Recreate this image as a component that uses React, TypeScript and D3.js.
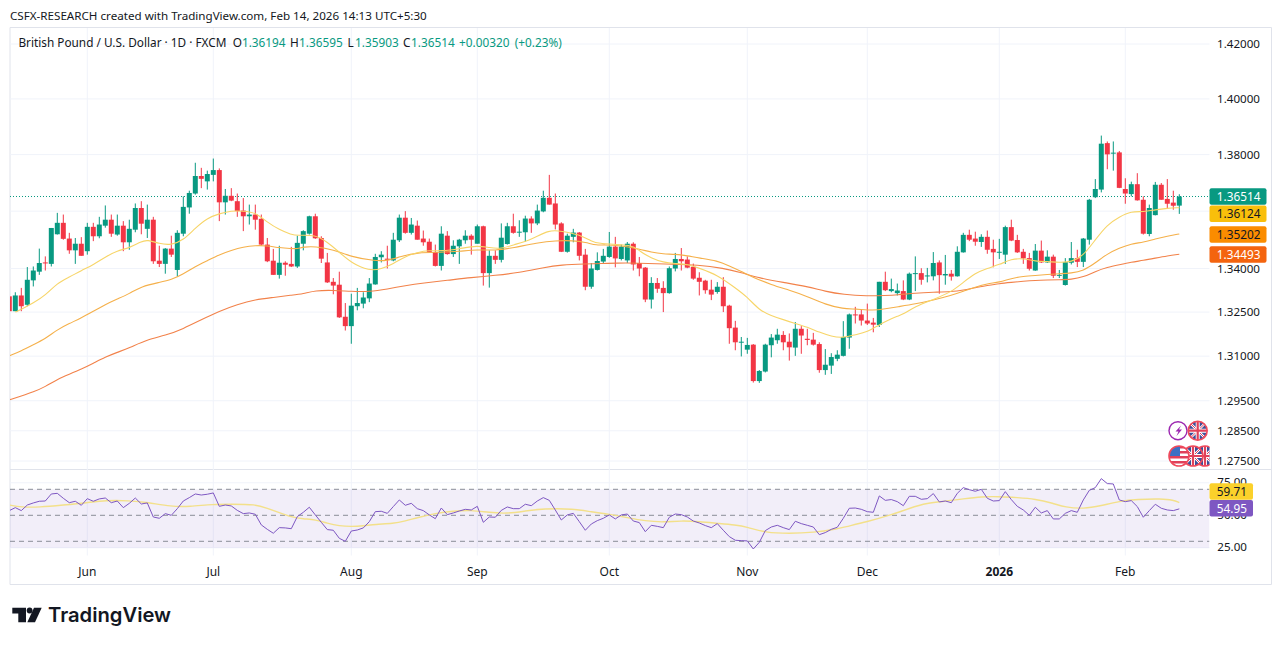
import React from "react";
import * as d3 from "d3";

type Candle = [number, number, number, number];
type Sample = [number, number];

// candles: [open, high, low, close]; first bar number is -1
const candlesMay: Candle[] = [
[1.3304,1.3304,1.3253,1.3253],[1.3253,1.3318,1.3253,1.3307],[1.3307,1.3333,1.3253,1.3270],[1.3275,1.3405,1.3270,1.3361],
[1.3359,1.3407,1.3338,1.3393],[1.3389,1.3469,1.3378,1.3419],[1.3421,1.3442,1.3393,1.3419],[1.3416,1.3541,1.3407,1.3541],
[1.3519,1.3594,1.3518,1.3559],[1.3559,1.3588,1.3500,1.3503],[1.3504,1.3524,1.3451,1.3463],[1.3463,1.3506,1.3416,1.3486],
[1.3486,1.3509,1.3444,1.3444]];
const candlesJun: Candle[] = [
[1.3460,1.3559,1.3448,1.3545],[1.3545,1.3559,1.3495,1.3512],[1.3512,1.3580,1.3505,1.3553],[1.3549,1.3620,1.3542,1.3570],
[1.3570,1.3588,1.3510,1.3521],[1.3518,1.3588,1.3514,1.3549],[1.3549,1.3565,1.3460,1.3491],[1.3491,1.3570,1.3465,1.3538],
[1.3535,1.3627,1.3526,1.3611],[1.3611,1.3635,1.3519,1.3556],[1.3538,1.3623,1.3506,1.3570],[1.3570,1.3580,1.3416,1.3425],
[1.3427,1.3479,1.3405,1.3416],[1.3416,1.3471,1.3382,1.3469],[1.3469,1.3514,1.3440,1.3448],[1.3395,1.3533,1.3373,1.3524],
[1.3521,1.3652,1.3512,1.3615],[1.3613,1.3672,1.3591,1.3664],[1.3662,1.3771,1.3658,1.3724],[1.3724,1.3753,1.3681,1.3714],
[1.3705,1.3743,1.3676,1.3731]];
const candlesJul: Candle[] = [
[1.3728,1.3786,1.3705,1.3745],[1.3745,1.3751,1.3565,1.3631],[1.3631,1.3678,1.3588,1.3654],[1.3654,1.3681,1.3635,1.3637],
[1.3635,1.3662,1.3580,1.3600],[1.3602,1.3646,1.3530,1.3582],[1.3582,1.3623,1.3553,1.3588],[1.3588,1.3623,1.3535,1.3570],
[1.3573,1.3588,1.3479,1.3483],[1.3483,1.3506,1.3422,1.3425],[1.3427,1.3468,1.3378,1.3378],[1.3378,1.3479,1.3365,1.3420],
[1.3420,1.3425,1.3375,1.3413],[1.3416,1.3475,1.3405,1.3407],[1.3407,1.3514,1.3402,1.3489],[1.3486,1.3533,1.3463,1.3530],
[1.3521,1.3584,1.3518,1.3582],[1.3582,1.3591,1.3503,1.3505],[1.3506,1.3512,1.3419,1.3434],[1.3421,1.3454,1.3350,1.3352],
[1.3354,1.3367,1.3311,1.3341],[1.3344,1.3389,1.3230,1.3232],[1.3234,1.3281,1.3187,1.3202]];
const candlesAug: Candle[] = [
[1.3202,1.3313,1.3142,1.3272],[1.3270,1.3333,1.3256,1.3281],[1.3279,1.3318,1.3263,1.3300],[1.3297,1.3367,1.3284,1.3348],
[1.3345,1.3451,1.3344,1.3440],[1.3439,1.3460,1.3421,1.3448],[1.3434,1.3479,1.3400,1.3430],[1.3428,1.3524,1.3425,1.3500],
[1.3498,1.3588,1.3492,1.3577],[1.3577,1.3600,1.3521,1.3524],[1.3524,1.3576,1.3518,1.3553],[1.3549,1.3567,1.3500,1.3500],
[1.3504,1.3532,1.3479,1.3491],[1.3493,1.3504,1.3454,1.3456],[1.3457,1.3483,1.3407,1.3409],[1.3409,1.3547,1.3393,1.3521],
[1.3514,1.3530,1.3448,1.3450],[1.3450,1.3498,1.3440,1.3479],[1.3477,1.3503,1.3416,1.3500],[1.3498,1.3533,1.3486,1.3514],
[1.3514,1.3519,1.3448,1.3500]];
const candlesSep: Candle[] = [
[1.3486,1.3553,1.3486,1.3547],[1.3547,1.3549,1.3341,1.3384],[1.3384,1.3463,1.3334,1.3444],[1.3444,1.3463,1.3416,1.3430],
[1.3430,1.3557,1.3421,1.3507],[1.3485,1.3559,1.3483,1.3547],[1.3547,1.3591,1.3521,1.3524],[1.3526,1.3568,1.3510,1.3528],
[1.3526,1.3584,1.3493,1.3574],[1.3574,1.3582,1.3524,1.3557],[1.3557,1.3623,1.3551,1.3602],[1.3599,1.3672,1.3596,1.3647],
[1.3647,1.3728,1.3623,1.3623],[1.3627,1.3662,1.3536,1.3553],[1.3557,1.3561,1.3457,1.3458],[1.3458,1.3521,1.3455,1.3514],
[1.3510,1.3538,1.3491,1.3525],[1.3525,1.3527,1.3428,1.3444],[1.3448,1.3468,1.3325,1.3337],[1.3337,1.3419,1.3330,1.3400],
[1.3395,1.3456,1.3393,1.3426],[1.3424,1.3468,1.3417,1.3444]];
const candlesOct: Candle[] = [
[1.3440,1.3527,1.3437,1.3476],[1.3476,1.3510,1.3404,1.3435],[1.3433,1.3483,1.3428,1.3476],[1.3428,1.3492,1.3419,1.3486],
[1.3486,1.3491,1.3393,1.3414],[1.3419,1.3440,1.3373,1.3400],[1.3403,1.3405,1.3284,1.3293],[1.3293,1.3370,1.3262,1.3350],
[1.3350,1.3367,1.3316,1.3330],[1.3333,1.3356,1.3250,1.3315],[1.3315,1.3407,1.3313,1.3401],[1.3400,1.3454,1.3390,1.3433],
[1.3433,1.3471,1.3393,1.3425],[1.3431,1.3442,1.3401,1.3403],[1.3406,1.3417,1.3361,1.3365],[1.3368,1.3387,1.3307,1.3354],
[1.3358,1.3361,1.3313,1.3325],[1.3327,1.3361,1.3291,1.3310],[1.3319,1.3353,1.3313,1.3337],[1.3337,1.3370,1.3250,1.3270],
[1.3272,1.3275,1.3142,1.3195],[1.3197,1.3220,1.3120,1.3147],[1.3147,1.3165,1.3099,1.3149]];
const candlesNov: Candle[] = [
[1.3122,1.3162,1.3108,1.3138],[1.3139,1.3141,1.3011,1.3016],[1.3016,1.3053,1.3010,1.3050],[1.3048,1.3142,1.3045,1.3139],
[1.3137,1.3175,1.3096,1.3163],[1.3154,1.3193,1.3142,1.3173],[1.3172,1.3185,1.3120,1.3147],[1.3149,1.3177,1.3085,1.3130],
[1.3129,1.3216,1.3101,1.3193],[1.3193,1.3202,1.3108,1.3170],[1.3159,1.3193,1.3137,1.3155],[1.3156,1.3179,1.3136,1.3139],
[1.3141,1.3147,1.3044,1.3053],[1.3053,1.3124,1.3037,1.3071],[1.3068,1.3110,1.3040,1.3097],[1.3091,1.3120,1.3083,1.3105],
[1.3101,1.3219,1.3099,1.3165],[1.3163,1.3245,1.3125,1.3242],[1.3242,1.3268,1.3211,1.3239],[1.3242,1.3258,1.3204,1.3221]];
const candlesDec: Candle[] = [
[1.3221,1.3279,1.3206,1.3211],[1.3214,1.3230,1.3181,1.3207],[1.3206,1.3354,1.3199,1.3354],[1.3354,1.3389,1.3322,1.3325],
[1.3322,1.3365,1.3318,1.3329],[1.3315,1.3348,1.3307,1.3324],[1.3322,1.3359,1.3291,1.3293],[1.3293,1.3386,1.3291,1.3382],
[1.3382,1.3442,1.3322,1.3384],[1.3384,1.3401,1.3344,1.3361],[1.3374,1.3402,1.3352,1.3376],[1.3373,1.3457,1.3359,1.3419],
[1.3421,1.3428,1.3313,1.3377],[1.3376,1.3447,1.3344,1.3381],[1.3382,1.3395,1.3358,1.3372],[1.3373,1.3477,1.3372,1.3458],
[1.3456,1.3524,1.3455,1.3517],[1.3517,1.3535,1.3495,1.3500],[1.3504,1.3528,1.3479,1.3493],[1.3492,1.3519,1.3475,1.3510],
[1.3510,1.3532,1.3451,1.3465],[1.3468,1.3500,1.3404,1.3456]];
const candlesJan: Candle[] = [
[1.3456,1.3503,1.3433,1.3458],[1.3448,1.3549,1.3416,1.3544],[1.3544,1.3570,1.3495,1.3497],[1.3499,1.3517,1.3454,1.3456],
[1.3458,1.3468,1.3416,1.3435],[1.3436,1.3454,1.3393,1.3399],[1.3393,1.3485,1.3392,1.3462],[1.3462,1.3497,1.3419,1.3421],
[1.3421,1.3463,1.3419,1.3441],[1.3441,1.3448,1.3367,1.3375],[1.3376,1.3395,1.3367,1.3378],[1.3343,1.3436,1.3341,1.3422],
[1.3420,1.3492,1.3414,1.3436],[1.3436,1.3465,1.3405,1.3423],[1.3423,1.3506,1.3405,1.3504],[1.3500,1.3643,1.3483,1.3640],
[1.3649,1.3713,1.3646,1.3678],[1.3676,1.3868,1.3666,1.3839],[1.3841,1.3847,1.3748,1.3801],[1.3804,1.3847,1.3743,1.3807],
[1.3808,1.3813,1.3681,1.3682]];
const candlesFeb: Candle[] = [
[1.3678,1.3716,1.3626,1.3662],[1.3660,1.3704,1.3652,1.3695],[1.3695,1.3734,1.3637,1.3638],[1.3640,1.3652,1.3518,1.3521],
[1.3520,1.3623,1.3512,1.3611],[1.3586,1.3703,1.3585,1.3693],[1.3693,1.3699,1.3640,1.3640],[1.3643,1.3713,1.3611,1.3626],
[1.3630,1.3672,1.3605,1.3619],[1.36194,1.36595,1.35903,1.36514]];

// moving averages: [bar number, price]
const ma20: Sample[] = [
[0,1.3250],[1,1.3259],[3,1.3281],[5,1.3307],[7,1.3350],[9,1.3370],[11,1.3393],[13,1.3413],[15,1.3440],[17,1.3462],[19,1.3471],[21,1.3494],[22,1.3500],[24,1.3486],[26,1.3481],[28,1.3498],[30,1.3541],[32,1.3576],[34,1.3591],[36,1.3602],[38,1.3600],[40,1.3596],[42,1.3561],[44,1.3535],[46,1.3518],[47,1.3514],
[50,1.3518],[52,1.3492],[54,1.3457],[56,1.3419],[59,1.3392],[61,1.3398],[63,1.3416],[65,1.3442],[67,1.3456],[69,1.3463],[71,1.3460],[74,1.3468],[77,1.3480],[79,1.3472],[81,1.3468],[83,1.3482],[86,1.3500],[89,1.3535],[91,1.3530],[94,1.3518],[96,1.3495],[97,1.3486],
[103,1.3483],[104,1.3460],[106,1.3436],[108,1.3421],[110,1.3417],[112,1.3415],[114,1.3401],[117,1.3378],[120,1.3333],[122,1.3302],[124,1.3256],[126,1.3238],[128,1.3224],[130,1.3211],[132,1.3199],[134,1.3181],[136,1.3167],[138,1.3162],[140,1.3173],[142,1.3182],[144,1.3207],[146,1.3227],[147,1.3236],
[148,1.3242],[150,1.3270],[153,1.3293],[156,1.3319],[158,1.3352],[160,1.3384],[162,1.3401],[164,1.3413],[166,1.3433],[168,1.3435],[170,1.3425],[172,1.3424],[174,1.3421],[176,1.3422],[178,1.3444],[180,1.3500],[182,1.3553],[184,1.3580],[186,1.3600],[188,1.3597],[190,1.3605],[192,1.3610],[194,1.36124]];
const ma50: Sample[] = [
[-1,1.3101],[1,1.3118],[3,1.3139],[5,1.3159],[7,1.3190],[9,1.3211],[11,1.3230],[13,1.3253],[15,1.3276],[17,1.3295],[19,1.3313],[21,1.3338],[24,1.3352],[26,1.3361],[28,1.3381],[30,1.3407],[32,1.3427],[34,1.3448],[36,1.3463],[38,1.3475],[40,1.3480],[42,1.3479],[44,1.3472],[46,1.3469],[47,1.3468],
[48,1.3475],[50,1.3477],[53,1.3466],[56,1.3440],[60,1.3426],[62,1.3427],[64,1.3440],[67,1.3456],[71,1.3456],[74,1.3459],[77,1.3466],[80,1.3462],[83,1.3472],[87,1.3489],[90,1.3497],[93,1.3497],[95,1.3491],[97,1.3480],
[98,1.3483],[101,1.3479],[104,1.3468],[106,1.3456],[108,1.3450],[110,1.3450],[112,1.3444],[114,1.3436],[117,1.3427],[119,1.3409],[121,1.3390],[123,1.3369],[126,1.3344],[129,1.3325],[132,1.3304],[135,1.3276],[138,1.3261],[140,1.3261],[143,1.3255],[145,1.3261],[147,1.3268],
[150,1.3278],[153,1.3291],[156,1.3307],[158,1.3321],[160,1.3336],[162,1.3348],[164,1.3352],[166,1.3366],[168,1.3373],[170,1.3376],[172,1.3379],[174,1.3382],[176,1.3384],[178,1.3392],[180,1.3419],[182,1.3451],[184,1.3471],[186,1.3486],[188,1.3491],[190,1.3503],[192,1.3512],[194,1.35202]];
const ma100: Sample[] = [
[-1,1.2953],[1,1.2966],[3,1.2979],[5,1.2997],[7,1.3022],[9,1.3039],[11,1.3056],[13,1.3076],[15,1.3097],[17,1.3113],[19,1.3128],[22,1.3156],[25,1.3170],[28,1.3193],[31,1.3224],[34,1.3253],[37,1.3276],[40,1.3293],[43,1.3300],[46,1.3308],
[48,1.3313],[50,1.3324],[53,1.3325],[56,1.3321],[59,1.3320],[62,1.3329],[65,1.3341],[68,1.3350],[72,1.3359],[76,1.3369],[80,1.3376],[84,1.3386],[88,1.3403],[91,1.3413],[95,1.3416],[98,1.3417],
[100,1.3419],[104,1.3419],[108,1.3415],[114,1.3413],[118,1.3401],[121,1.3386],[124,1.3367],[128,1.3352],[132,1.3338],[135,1.3321],[138,1.3310],[142,1.3305],[145,1.3307],[147,1.3309],
[150,1.3315],[153,1.3318],[156,1.3320],[158,1.3325],[160,1.3334],[162,1.3341],[164,1.3348],[166,1.3352],[168,1.3356],[170,1.3359],[172,1.3360],[174,1.3361],[176,1.3362],[178,1.3370],[180,1.3390],[182,1.3404],[184,1.3413],[186,1.3422],[188,1.3428],[190,1.3436],[192,1.3444],[194,1.34493]];

// RSI, one value per bar from bar -1 to bar 194
const rsiA: number[] = [53.6,55.9,53.6,57.9,59.5,60.8,61.0,66.4,66.9,63.1,59.7,60.8,57.7,62.8,60.8,62.6,63.3,59.7,61.0,55.9,59.2,63.3,58.7,59.5,48.7,47.7,51.3,50.0,55.1,61.0,63.6,66.4,65.6,66.2,67.2,56.9,57.9,57.2,53.8,51.3,51.8,50.8,42.6,39.2,36.2,40.5,40.3,39.7,49.0];
const rsiB: number[] = [52.3,56.2,50.3,44.6,39.0,38.5,32.3,30.0,37.9,38.7,40.3,45.1,52.8,53.1,51.5,56.7,61.8,57.7,59.2,55.1,53.6,50.3,47.4,55.6,50.5,51.8,53.3,54.6,54.1,56.9,44.6,48.7,48.5,53.8,56.4,55.1,55.1,58.5,57.4,61.0,63.6,61.5,54.1,46.4,50.3,51.5,45.1,38.5,43.3,45.9];
const rsiC: number[] = [47.7,50.3,47.2,50.3,51.0,45.6,44.4,37.4,42.3,41.5,40.5,48.5,51.0,50.5,48.7,45.6,44.1,42.1,40.5,43.6,38.5,33.6,30.8,30.5,30.3,24.1,29.2,38.2,41.0,42.3,40.5,39.0,45.4,43.6,42.3,41.0,35.1,36.7,39.2,40.8,47.7,55.4,55.6,54.6,52.8,52.3,64.9,61.5,62.1,60.5];
const rsiD: number[] = [57.4,64.6,64.6,62.3,62.8,66.7,60.3,61.0,59.7,66.9,71.3,69.7,68.5,70.0,63.1,61.0,61.3,68.2,62.1,56.9,54.1,50.0,56.2,51.8,53.6,47.2,47.2,51.5,53.6,52.3,61.8,69.2,71.3,78.2,74.4,74.1,61.8,60.5,61.3,56.7,48.5,53.6,58.5,55.4,54.1,53.6,54.95];
const rsiMa: Sample[] = [
[-1,57.9],[1,56.2],[4,56.2],[8,57.9],[12,59.7],[15,61.5],[19,61.3],[22,60.0],[26,56.7],[29,56.7],[33,58.5],[36,58.5],[40,58.5],[42,55.4],[44,52.1],[46,48.7],[48,47.2],[50,46.7],[52,43.8],[54,41.8],[56,41.3],[58,41.8],[60,43.1],[63,43.6],[65,45.6],[67,48.2],
[70,51.5],[73,53.3],[76,54.1],[79,52.1],[82,51.3],[85,53.3],[88,55.1],[93,55.1],[96,52.6],[99,50.8],[102,48.2],[105,45.6],[108,44.6],[111,45.9],[114,45.1],[117,43.8],[120,42.6],[122,41.0],[125,36.7],[129,35.9],[133,36.7],[137,39.5],
[138,40.8],[142,45.1],[146,50.3],[149,55.4],[152,59.5],[155,60.8],[158,62.6],[161,64.4],[164,64.4],[167,63.6],[170,62.6],[173,59.2],[175,56.2],[178,54.9],[181,57.4],[184,60.8],[187,62.3],[191,62.8],[193,61.8],[194,59.71]];

const gridTicks = [1.42, 1.4, 1.38, 1.36, 1.34, 1.325, 1.31, 1.295, 1.285, 1.275];
const priceLabels = [1.42, 1.4, 1.38, 1.34, 1.325, 1.31, 1.295, 1.285, 1.275];
const rsiDashed = [70, 50, 30];
const rsiTicks = [75, 50, 25];
const monthBars = [12, 33, 56, 77, 99, 122, 142, 164, 185];
const monthNames = ["Jun", "Jul", "Aug", "Sep", "Oct", "Nov", "Dec", "2026", "Feb"];

const candles = [...candlesMay, ...candlesJun, ...candlesJul, ...candlesAug, ...candlesSep, ...candlesOct, ...candlesNov, ...candlesDec, ...candlesJan, ...candlesFeb];
const rsi = [...rsiA, ...rsiB, ...rsiC, ...rsiD];

const UP = "#089981", DOWN = "#F23645", TXT = "#131722", GRID = "#f0f3fa", BORDER = "#e0e3eb";
const FONT = "'Noto Sans', sans-serif";

const x = d3.scaleLinear().domain([-1, 194]).range([9.3, 1179.3]);
const y = d3.scaleLog().domain([1.275, 1.42]).range([461, 44]);
const yR = d3.scaleLinear().domain([30, 70]).range([541.3, 489.3]);

const maLine = d3.line<Sample>().x(d => x(d[0])).y(d => y(d[1])).curve(d3.curveBasis);
const rsiLine = d3.line<number>().x((_, i) => x(i - 1)).y(d => yR(d));
const rsiMaLine = d3.line<Sample>().x(d => x(d[0])).y(d => yR(d[1])).curve(d3.curveBasis);

function Tag({ v, h, fill, color, text, w = 57 }: { v: number; h: number; fill: string; color: string; text: string; w?: number }) {
  return (
    <g>
      <rect x={1209.5} y={v - h / 2} width={w} height={h} rx={2} fill={fill} />
      <text x={1209.5 + w - 6} y={v + 4.3} textAnchor="end" fontSize={11.8} fill={color} fontFamily={FONT}>{text}</text>
    </g>
  );
}

function UkFlag({ cx, cy, r, id }: { cx: number; cy: number; r: number; id: string }) {
  return (
    <g>
      <clipPath id={id}><circle cx={cx} cy={cy} r={r} /></clipPath>
      <g clipPath={`url(#${id})`}>
        <rect x={cx - r} y={cy - r} width={2 * r} height={2 * r} fill="#3b4f9a" />
        <path d={`M${cx - r} ${cy - r}L${cx + r} ${cy + r}M${cx + r} ${cy - r}L${cx - r} ${cy + r}`} stroke="#fff" strokeWidth={2.4} />
        <path d={`M${cx - r} ${cy - r}L${cx + r} ${cy + r}M${cx + r} ${cy - r}L${cx - r} ${cy + r}`} stroke="#e0405a" strokeWidth={1} />
        <path d={`M${cx} ${cy - r}V${cy + r}M${cx - r} ${cy}H${cx + r}`} stroke="#fff" strokeWidth={4} />
        <path d={`M${cx} ${cy - r}V${cy + r}M${cx - r} ${cy}H${cx + r}`} stroke="#e0405a" strokeWidth={2.2} />
      </g>
      <circle cx={cx} cy={cy} r={r} fill="none" stroke="#ef4a5c" strokeWidth={1.6} />
    </g>
  );
}

function UsFlag({ cx, cy, r, id }: { cx: number; cy: number; r: number; id: string }) {
  const stripes = d3.range(-4, 5).map(k => cy + k * (r / 4));
  return (
    <g>
      <clipPath id={id}><circle cx={cx} cy={cy} r={r} /></clipPath>
      <g clipPath={`url(#${id})`}>
        <rect x={cx - r} y={cy - r} width={2 * r} height={2 * r} fill="#fff" />
        {stripes.filter((_, k) => k % 2 === 0).map((s, k) => <rect key={k} x={cx - r} y={s} width={2 * r} height={r / 4} fill="#e0405a" />)}
        <rect x={cx - r} y={cy - r} width={r * 1.1} height={r} fill="#3b6fc4" />
      </g>
      <circle cx={cx} cy={cy} r={r} fill="none" stroke="#ef4a5c" strokeWidth={1.6} />
    </g>
  );
}

export default function App() {
  const w = 1281, h = 645;
  const last = candles[candles.length - 1][3];
  return (
    <svg width={w} height={h} viewBox={`0 0 ${w} ${h}`} style={{ position: "absolute", left: 0, top: 0, display: "block", background: "#fff" }}>
      <defs>
        <clipPath id="pane"><rect x={10} y={28} width={1199.5} height={441} /></clipPath>
        <clipPath id="pane2"><rect x={10} y={470} width={1199.5} height={86} /></clipPath>
        <clipPath id="flags"><rect x={1150} y={420} width={59.5} height={50} /></clipPath>
      </defs>

      {/* frame */}
      <path d="M10 27.5H1271.5V584.5H10Z" fill="none" stroke={BORDER} strokeWidth={1} />
      <line x1={10} x2={1271.5} y1={469.5} y2={469.5} stroke={BORDER} />

      {/* grid */}
      {monthBars.map(b => <line key={b} x1={x(b)} x2={x(b)} y1={28} y2={555.5} stroke={GRID} strokeWidth={1} />)}
      {gridTicks.map(t => <line key={t} x1={10} x2={1209.5} y1={y(t)} y2={y(t)} stroke={GRID} strokeWidth={1} />)}
      {[75, 25].map(t => <line key={t} x1={10} x2={1209.5} y1={yR(t)} y2={yR(t)} stroke={GRID} strokeWidth={1} />)}

      {/* candles */}
      <g clipPath="url(#pane)">
        <line x1={10} x2={1209.5} y1={196.5} y2={196.5} stroke={UP} strokeWidth={1} strokeDasharray="1 2" shapeRendering="crispEdges" />
        {candles.map(([o, hi, lo, c], k) => {
          const cx = x(k - 1);
          const col = c >= o ? UP : DOWN;
          const top = y(Math.max(o, c));
          const bot = y(Math.min(o, c));
          return (
            <g key={k}>
              <line x1={cx} x2={cx} y1={y(hi)} y2={y(lo)} stroke={col} strokeWidth={1} />
              <rect x={cx - 2.5} y={top} width={5} height={Math.max(bot - top, 1)} fill={col} />
            </g>
          );
        })}
        <path d={maLine(ma100) ?? ""} fill="none" stroke="#f2824a" strokeWidth={1.1} />
        <path d={maLine(ma50) ?? ""} fill="none" stroke="#f5b04a" strokeWidth={1.1} />
        <path d={maLine(ma20) ?? ""} fill="none" stroke="#f7d568" strokeWidth={1.1} />
      </g>

      {/* RSI */}
      <g clipPath="url(#pane2)">
        <rect x={10} y={yR(70)} width={1199.5} height={yR(25) - yR(70)} fill="#7e57c2" fillOpacity={0.1} />
        {rsiDashed.map(t => <line key={t} x1={10} x2={1209.5} y1={yR(t)} y2={yR(t)} stroke="#787b86" strokeOpacity={0.85} strokeWidth={1} strokeDasharray="5 4" />)}
        <path d={rsiMaLine(rsiMa) ?? ""} fill="none" stroke="#f3e08a" strokeWidth={1.4} />
        <path d={rsiLine(rsi) ?? ""} fill="none" stroke="#7e57c2" strokeWidth={1} />
      </g>

      {/* time axis */}
      {monthBars.map((b, k) => (
        <text key={b} x={x(b)} y={575.5} textAnchor="middle" fontSize={12} fontFamily={FONT} fill={TXT} fontWeight={monthNames[k] === "2026" ? 700 : 400}>{monthNames[k]}</text>
      ))}

      {/* price axis */}
      {priceLabels.map(t => (
        <text key={t} x={1260} y={y(t) + 4.3} textAnchor="end" fontSize={11.6} fontFamily={FONT} fill={TXT}>{t.toFixed(5)}</text>
      ))}
      {rsiTicks.map(t => (
        <text key={t} x={1247} y={yR(t) + 3.4} textAnchor="end" fontSize={11.6} fontFamily={FONT} fill={TXT}>{t.toFixed(2)}</text>
      ))}

      {/* price tags */}
      <Tag v={196.4} h={16.5} fill={UP} color="#fff" text={last.toFixed(5)} />
      <Tag v={213.7} h={16.5} fill="#f9bf0b" color={TXT} text="1.36124" />
      <Tag v={234.5} h={16.5} fill="#fb8c00" color={TXT} text="1.35202" />
      <Tag v={254.5} h={16.5} fill="#f4640f" color="#fff" text="1.34493" />
      <Tag v={491.5} h={16.5} fill="#fbd12b" color={TXT} text="59.71" w={43.5} />
      <Tag v={508.2} h={16.5} fill="#7e57c2" color="#fff" text="54.95" w={43.5} />

      {/* event badges */}
      <g>
        <circle cx={1178} cy={430.7} r={9} fill="#fff" stroke="#9c27b0" strokeWidth={1.4} />
        <path d="M1181 425.5L1175.5 431.5H1178.5L1176.5 436L1182 429.5H1179Z" fill="#9c27b0" />
        <UkFlag cx={1197.7} cy={430.7} r={9.5} id="uk1" />
        <g clipPath="url(#flags)">
          <UkFlag cx={1205} cy={456} r={10} id="uk3" />
          <UkFlag cx={1193} cy={456} r={10} id="uk2" />
          <UsFlag cx={1179} cy={456} r={10} id="us1" />
        </g>
      </g>

      {/* header */}
      <text x={10} y={19.5} fontSize={11.64} fontFamily={FONT} fill={TXT}>CSFX-RESEARCH created with TradingView.com, Feb 14, 2026 14:13 UTC+5:30</text>
      <g fontSize={11.8} fontFamily={FONT}>
        <text x={18.4} y={46.5} fill={TXT}>British Pound / U.S. Dollar · 1D · FXCM</text>
        <text x={232.7} y={46.5} fill={TXT}>O</text><text x={241.9} y={46.5} fill={UP}>1.36194</text>
        <text x={290} y={46.5} fill={TXT}>H</text><text x={299} y={46.5} fill={UP}>1.36595</text>
        <text x={347.5} y={46.5} fill={TXT}>L</text><text x={355} y={46.5} fill={UP}>1.35903</text>
        <text x={403} y={46.5} fill={TXT}>C</text><text x={411} y={46.5} fill={UP}>1.36514</text>
        <text x={459} y={46.5} fill={UP}>+0.00320</text>
        <text x={514.7} y={46.5} fill={UP}>(+0.23%)</text>
      </g>

      {/* logo */}
      <g fill="#131722">
        <path d="M12.3 607.7H26V622.3H18.3V613.4H12.3Z" />
        <circle cx={29.6} cy={610.5} r={2.9} />
        <path d="M34 607.7H41.7L35 622.3H27.3Z" />
        <text x={48} y={622} fontFamily="Inter, 'Noto Sans', sans-serif" fontWeight={600} fontSize={20.2} fill="#131722">TradingView</text>
      </g>
    </svg>
  );
}
